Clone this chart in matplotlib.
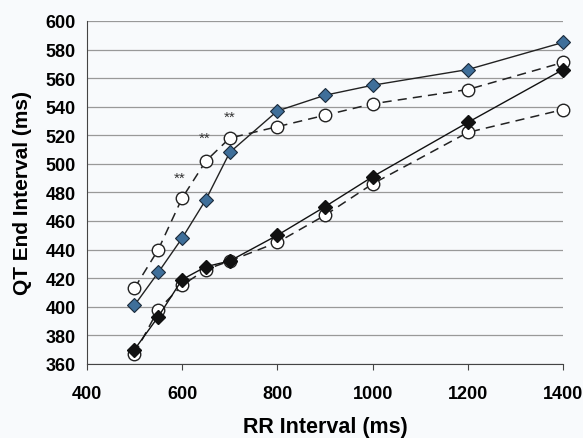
import matplotlib.pyplot as plt

# Données
rr = [500, 550, 600, 650, 700, 800, 900, 1000, 1200, 1400]
qt_bleu = [401, 424, 448, 475, 508, 537, 548, 555, 566, 585]
qt_rond_haut = [413, 440, 476, 502, 518, 526, 534, 542, 552, 571]
qt_noir = [370, 393, 419, 428, 432, 450, 470, 491, 529, 566]
qt_rond_bas = [367, 398, 415, 426, 432, 445, 464, 486, 522, 538]

etoiles_x = [595, 648, 700]
etoiles_y = [490, 518, 533]

plt.rcParams['font.family'] = ['Liberation Sans', 'DejaVu Sans']
fig = plt.figure(figsize=(5.83, 4.39), dpi=100)
fig.patch.set_facecolor('#f8fafc')
ax = fig.add_axes([0.149, 0.169, 0.817, 0.781])
ax.set_facecolor('#f8fafc')

# Séries
ax.plot(rr, qt_rond_haut, color='#222222', lw=1.1, ls=(0, (6, 4)), marker='o',
        ms=9, mfc='white', mec='#222222', mew=1.0, zorder=3, clip_on=False)
ax.plot(rr, qt_bleu, color='#222222', lw=1.0, marker='D', ms=7.5,
        mfc='#3f6f9a', mec='#1a2a3a', mew=0.8, zorder=4, clip_on=False)
ax.plot(rr, qt_rond_bas, color='#222222', lw=1.1, ls=(0, (6, 4)), marker='o',
        ms=9, mfc='white', mec='#222222', mew=1.0, zorder=3, clip_on=False)
ax.plot(rr, qt_noir, color='#111111', lw=1.0, marker='D', ms=7.5,
        mfc='#111111', mec='#111111', zorder=4, clip_on=False)

for x, y in zip(etoiles_x, etoiles_y):
    ax.text(x, y, '**', ha='center', va='center', fontsize=11, color='#333333')

# Axes
ax.set_xlim(400, 1400)
ax.set_ylim(360, 600)
ax.set_xticks(range(400, 1401, 200))
ax.set_yticks(range(360, 601, 20))
ax.yaxis.grid(True, color='#999999', lw=0.9)
ax.set_axisbelow(True)
for s in ['top', 'right']:
    ax.spines[s].set_visible(False)
for s in ['left', 'bottom']:
    ax.spines[s].set_color('#444444')
ax.tick_params(axis='y', length=0, labelsize=13, pad=8)
ax.tick_params(axis='x', length=4, direction='out', labelsize=13, pad=11, color='#444444')
for lab in ax.get_xticklabels() + ax.get_yticklabels():
    lab.set_fontweight('bold')

ax.set_xlabel("RR Interval (ms)", fontsize=15.5, fontweight='bold', labelpad=10)
ax.set_ylabel("QT End Interval (ms)", fontsize=15, fontweight='bold', labelpad=10)

plt.savefig('out.png', dpi=100, facecolor=fig.get_facecolor())
